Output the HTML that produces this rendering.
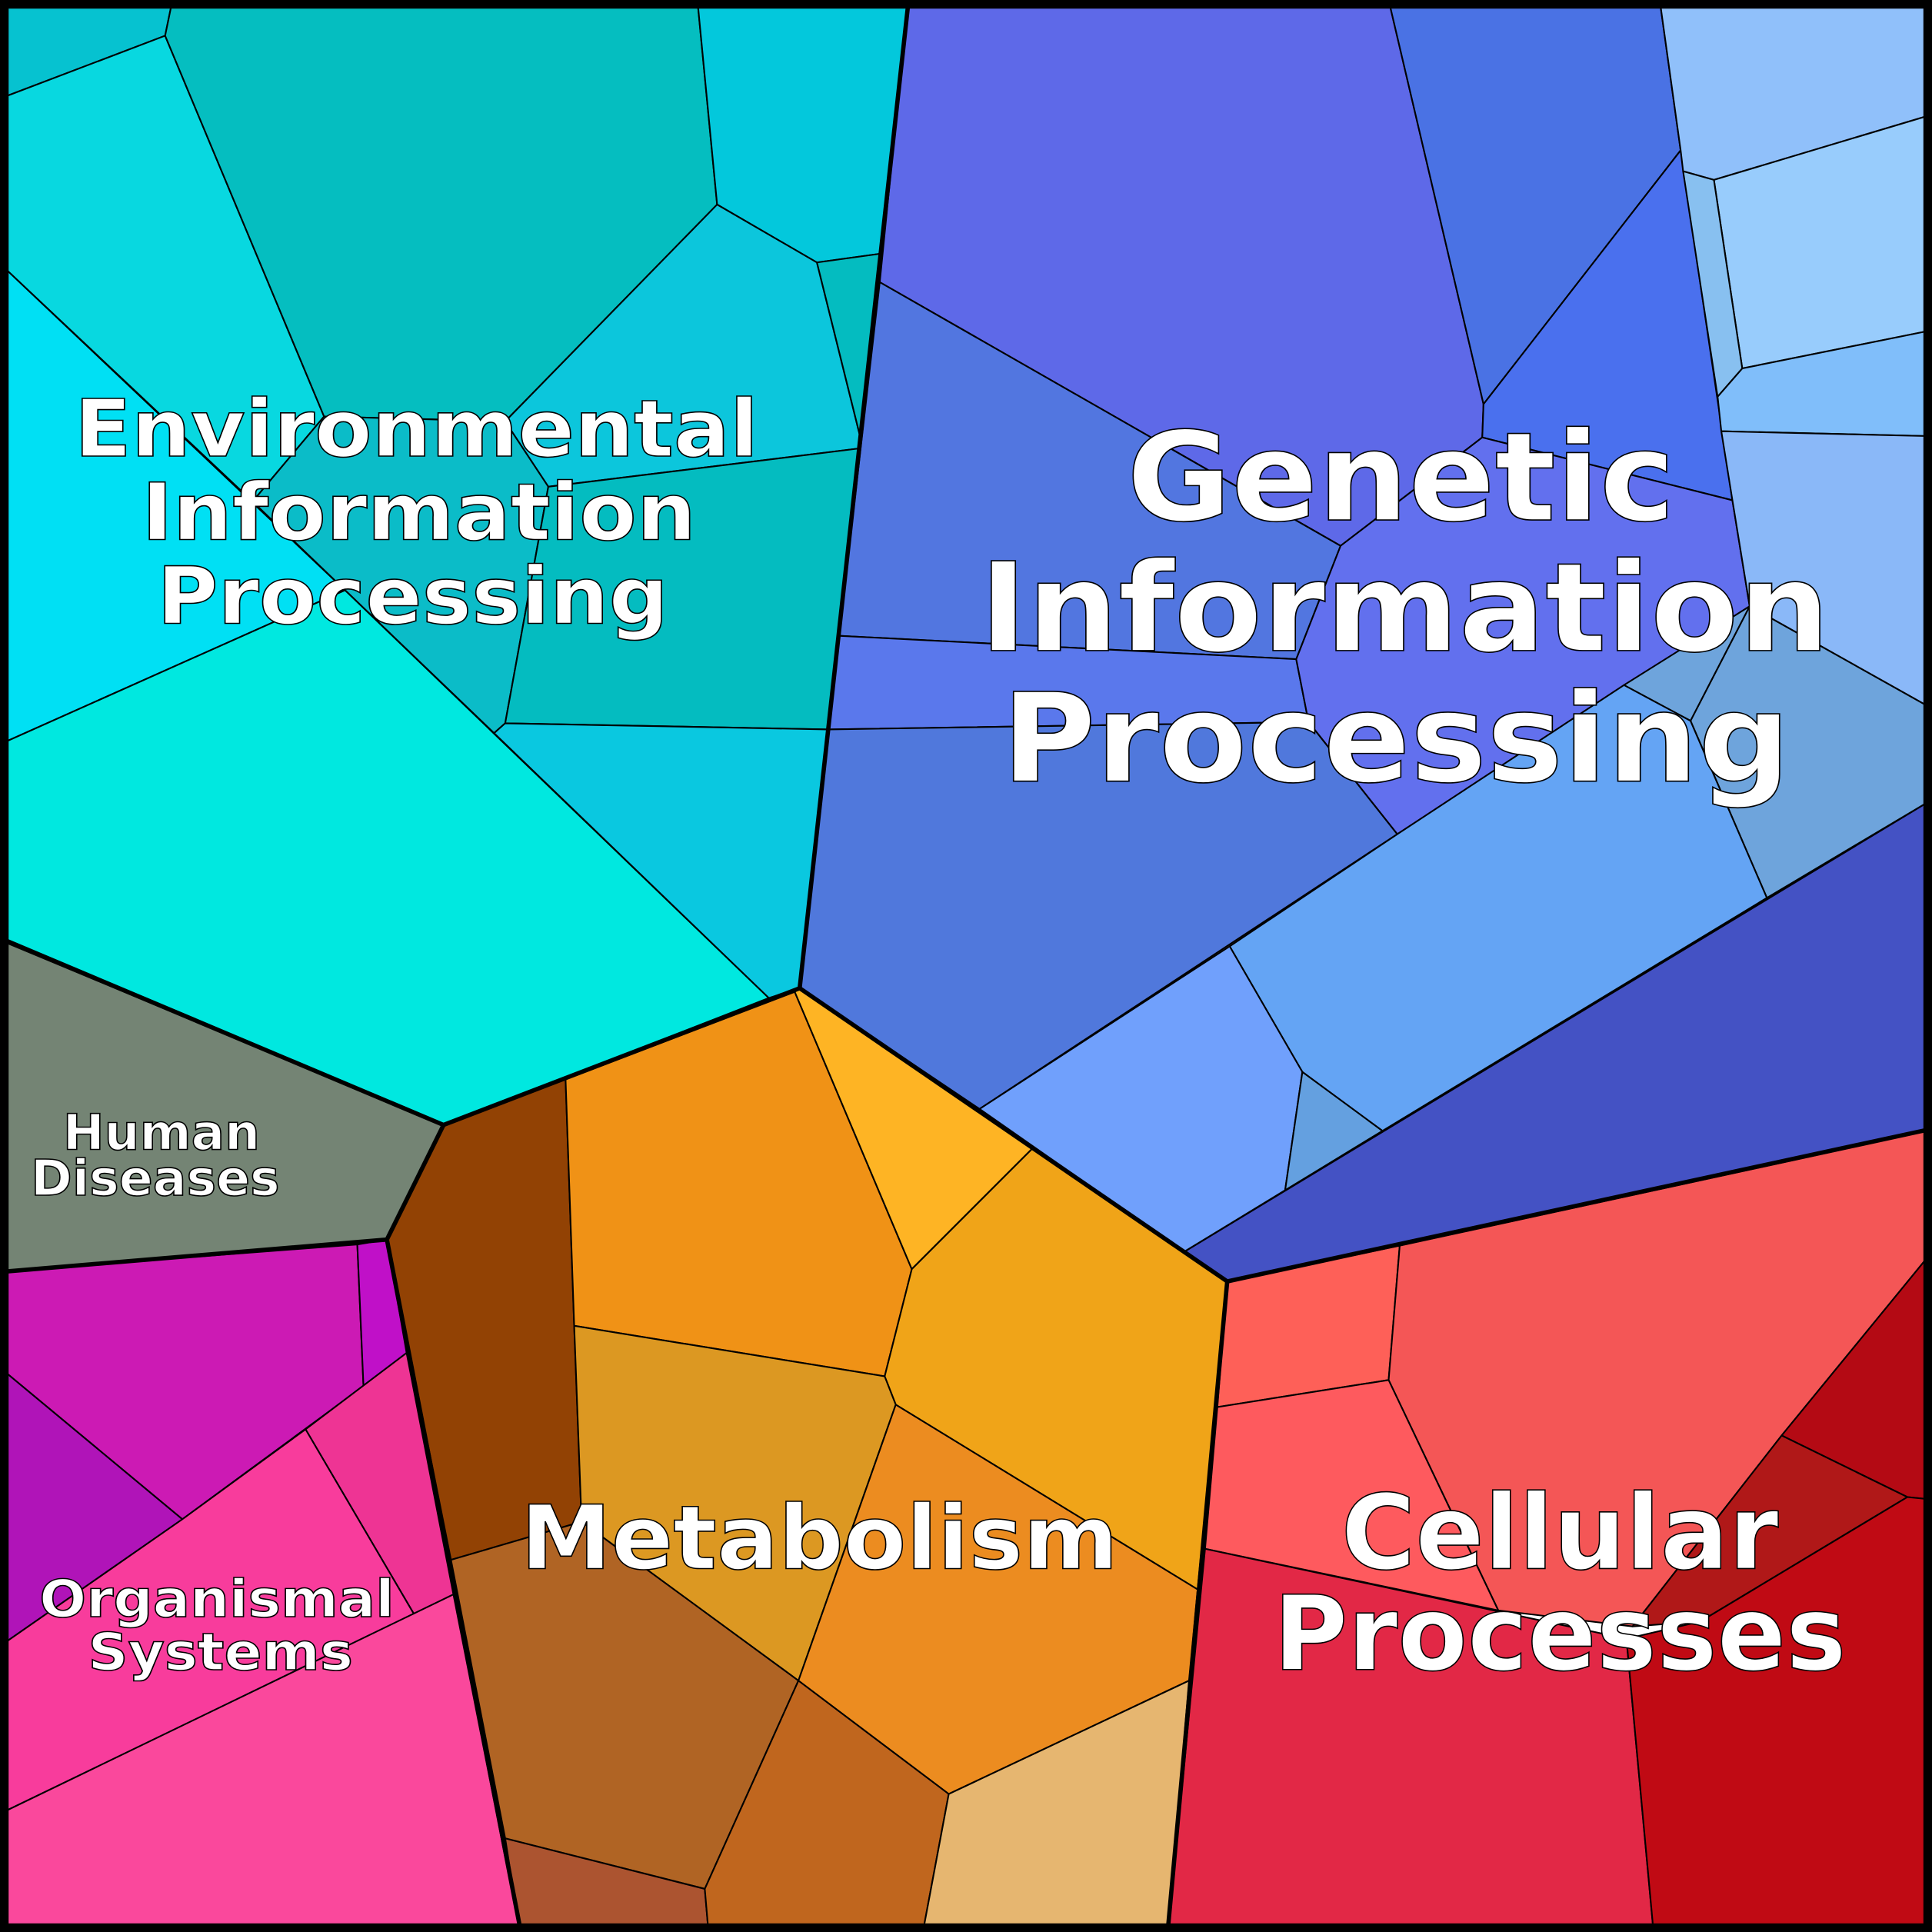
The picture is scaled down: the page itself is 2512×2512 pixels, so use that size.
<!DOCTYPE html>
<html><head><meta charset="utf-8"><style>html,body{margin:0;padding:0;background:#fff}svg{display:block}</style></head>
<body>
<svg width="2512" height="2512" viewBox="0 0 1568 1568" xmlns="http://www.w3.org/2000/svg">
<g stroke="#000" stroke-width="1.3" stroke-linejoin="round">
<polygon fill="#06c2d0" points="0,0 140,0 134,29 0,80"/>
<polygon fill="#08d8e0" points="0,80 134,29 263,338 205,407 0,214"/>
<polygon fill="#05bec0" points="140,0 566,0 582,166 410,342 263,338 134,29"/>
<polygon fill="#03c8dc" points="566,0 737,0 714,206 663,213 582,166"/>
<polygon fill="#0cc6dc" points="582,166 663,213 698,354 697,364 445,395 410,342"/>
<polygon fill="#04bcc0" points="663,213 714,206 698,354"/>
<polygon fill="#0bbcc8" points="205,407 263,338 410,342 445,395 410,587 401,595"/>
<polygon fill="#04bcc0" points="445,395 697,364 672,592 410,587"/>
<polygon fill="#00e0f4" points="0,214 280,479 0,604"/>
<polygon fill="#00e8e0" points="0,604 280,479 624,810 360,913 0,763"/>
<polygon fill="#0ac8e0" points="401,595 410,587 672,592 649,802 624,810"/>
<polygon fill="#5e69e8" points="737,0 1127,0 1204,328 1203,355 1088,443 714,229"/>
<polygon fill="#4a72e4" points="1127,0 1347,0 1364,122 1204,328"/>
<polygon fill="#4a70ee" points="1364,122 1406,406 1203,355 1204,328"/>
<polygon fill="#5276e0" points="714,229 1088,443 1052,535 681,516"/>
<polygon fill="#5a78ec" points="681,516 1052,535 1062,586 672,592"/>
<polygon fill="#6270ee" points="1088,443 1203,355 1406,406 1420,492 1134,677 1062,586 1052,535"/>
<polygon fill="#5078dc" points="672,592 1062,586 1134,677 795,900 649,802"/>
<polygon fill="#90c0fa" points="1347,0 1568,0 1568,93 1391,146 1366,139 1364,122"/>
<polygon fill="#98ccfc" points="1391,146 1568,93 1568,268 1414,299"/>
<polygon fill="#88c0f0" points="1366,139 1391,146 1414,299 1394,322"/>
<polygon fill="#80befa" points="1394,322 1414,299 1568,268 1568,354 1397,350"/>
<polygon fill="#8ab8f8" points="1397,350 1568,354 1568,575 1420,492 1406,406"/>
<polygon fill="#6ea4dc" points="1420,492 1568,575 1568,649 1434,728.7 1372,585"/>
<polygon fill="#6ea4dc" points="1318,556 1420,492 1372,585"/>
<polygon fill="#64a4f4" points="998,768 1134,677 1318,556 1372,585 1434,728.7 1122,917.8 1057,870"/>
<polygon fill="#70a0fc" points="795,900 998,768 1057,870 1043,966 961,1016"/>
<polygon fill="#64a0e0" points="1057,870 1122,917.8 1043,966"/>
<polygon fill="#4452c4" points="961,1016 1568,649 1568,917 996,1040"/>
<polygon fill="#924204" points="360,913 459,876 466,1076 472,1235 366,1266 314,1006"/>
<polygon fill="#f09216" points="459,876 645,805 740,1030 718,1117 466,1076"/>
<polygon fill="#feb424" points="645,805 649,802 838,932 740,1030"/>
<polygon fill="#f0a418" points="838,932 996,1040 972,1290 727,1140 718,1117 740,1030"/>
<polygon fill="#dc9822" points="466,1076 718,1117 727,1140 648,1364 472,1235"/>
<polygon fill="#ec8c20" points="727,1140 972,1290 965,1364 770,1456 648,1364"/>
<polygon fill="#b06424" points="366,1266 472,1235 648,1364 572,1533 410,1492"/>
<polygon fill="#ac5430" points="410,1492 572,1533 575,1568 422,1568"/>
<polygon fill="#c0661e" points="648,1364 770,1456 749,1568 575,1568 572,1533"/>
<polygon fill="#e6b670" points="770,1456 965,1364 948,1568 749,1568"/>
<polygon fill="#748474" points="0,763 360,913 314,1006 0,1032"/>
<polygon fill="#cc1ab4" points="0,1032 290,1010 295,1125 148,1233 0,1110"/>
<polygon fill="#c010c8" points="290,1010 314,1006 330,1098 295,1125"/>
<polygon fill="#b014b8" points="0,1110 148,1233 0,1336"/>
<polygon fill="#ee3494" points="248,1160 330,1098 368,1294 336,1310"/>
<polygon fill="#f83c9c" points="0,1336 148,1233 248,1160 336,1310 0,1472"/>
<polygon fill="#fa489c" points="0,1472 368,1294 422,1568 0,1568"/>
<polygon fill="#fe6058" points="996,1040 1136,1011 1127,1120 988,1142"/>
<polygon fill="#f45656" points="1136,1011 1568,917 1568,1016 1446,1165 1325,1320 1216,1307 1127,1120"/>
<polygon fill="#fe5a5e" points="988,1142 1127,1120 1216,1307 978,1257"/>
<polygon fill="#e22846" points="978,1257 1320,1330 1342,1568 948,1568"/>
<polygon fill="#b40a14" points="1446,1165 1568,1016 1568,1217 1548,1215"/>
<polygon fill="#b01818" points="1446,1165 1548,1215 1380,1316 1325,1320"/>
<polygon fill="#c00a14" points="1320,1330 1380,1316 1548,1215 1568,1217 1568,1568 1342,1568"/>
</g>
<g stroke="#000" stroke-width="3.5" fill="none" stroke-linejoin="round">
<polyline points="737,4 649,802 360,913 4,763"/>
<polyline points="649,802 996,1040 1564,917"/>
<polyline points="360,913 314,1006 4,1032"/>
<polyline points="314,1006 422,1564"/>
<polyline points="996,1040 948,1564"/>
</g>
<rect x="3.5" y="3.5" width="1561" height="1561" fill="none" stroke="#000" stroke-width="7"/>
<g font-family="'DejaVu Sans','Liberation Sans',sans-serif" font-weight="bold" fill="#fff" stroke="#000" stroke-width="1" text-anchor="middle">
<text x="338" y="370" font-size="64" textLength="555" lengthAdjust="spacingAndGlyphs">Environmental</text>
<text x="340" y="438" font-size="64" textLength="450" lengthAdjust="spacingAndGlyphs">Information</text>
<text x="335" y="506" font-size="64" textLength="415" lengthAdjust="spacingAndGlyphs">Processing</text>
<text x="1137" y="422" font-size="100" textLength="445" lengthAdjust="spacingAndGlyphs">Genetic</text>
<text x="1140" y="528" font-size="100" textLength="690" lengthAdjust="spacingAndGlyphs">Information</text>
<text x="1133" y="634" font-size="100" textLength="640" lengthAdjust="spacingAndGlyphs">Processing</text>
<text x="665" y="1273" font-size="72" textLength="485" lengthAdjust="spacingAndGlyphs">Metabolism</text>
<text x="1266" y="1273" font-size="84" textLength="355" lengthAdjust="spacingAndGlyphs">Cellular</text>
<text x="1266" y="1355" font-size="84" textLength="465" lengthAdjust="spacingAndGlyphs">Processes</text>
<text x="131" y="933" font-size="40" textLength="160" lengthAdjust="spacingAndGlyphs">Human</text>
<text x="126" y="970" font-size="40" textLength="202" lengthAdjust="spacingAndGlyphs">Diseases</text>
<text x="176" y="1312" font-size="42" textLength="288" lengthAdjust="spacingAndGlyphs">Organismal</text>
<text x="179" y="1355" font-size="42" textLength="215" lengthAdjust="spacingAndGlyphs">Systems</text>
</g>
</svg>
</body></html>
